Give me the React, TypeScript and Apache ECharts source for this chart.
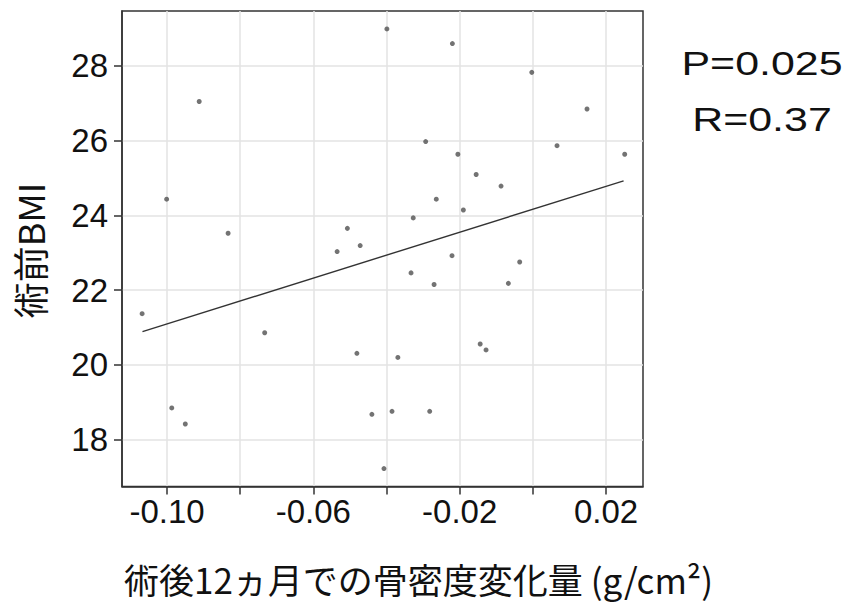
import React, { useEffect, useRef } from "react";
import * as echarts from "echarts";

// Change in bone mineral density 12 months after surgery (g/cm2)
const bmdChange = [
  -0.0912, -0.0399, -0.0220, -0.0003, 0.0148, -0.0293, -0.0205, 0.0066, 0.0251,
  -0.0155, -0.0087, -0.0264, -0.1001, -0.0833, -0.0535, -0.0507, -0.0472, -0.1068,
  -0.0733, -0.0481, -0.0369, -0.0190, -0.0327, -0.0221, -0.0333, -0.0270, -0.0036,
  -0.0067, -0.0144, -0.0128, -0.0987, -0.0950, -0.0440, -0.0385, -0.0282, -0.0407,
];
// Pre-operative BMI
const preBmi = [
  27.04, 28.98, 28.59, 27.82, 26.84, 25.97, 25.63, 25.86, 25.63,
  25.09, 24.78, 24.43, 24.43, 23.52, 23.03, 23.65, 23.19, 21.37,
  20.86, 20.31, 20.20, 24.14, 23.93, 22.92, 22.46, 22.15, 22.75,
  22.18, 20.56, 20.40, 18.85, 18.42, 18.68, 18.76, 18.76, 17.23,
];
// Regression line end points
const fitX = [-0.1067, 0.0248];
const fitY = [20.89, 24.92];

const xTicks = [-0.1, -0.08, -0.06, -0.04, -0.02, 0.0, 0.02];
const xLabelValues = [-0.1, -0.06, -0.02, 0.02];
const yTicks = [18, 20, 22, 24, 26, 28];

const xTitle = "術後12ヵ月での骨密度変化量 (g/cm²)";
const yTitle = "術前BMI";
const statLines = ["P=0.025", "R=0.37"];

export default function App() {
  const ref = useRef<HTMLDivElement>(null);
  useEffect(() => {
    if (!ref.current) return;
    const chart = echarts.init(ref.current, null, { renderer: "svg" });
    const axisColor = "#333333";
    const textColor = "#111111";
    const gridColor = "#e3e3e3";
    chart.setOption({
      animation: false,
      backgroundColor: "#ffffff",
      grid: {
        left: 122,
        top: 11,
        width: 521,
        height: 475.5,
        show: true,
        borderColor: axisColor,
        borderWidth: 1.5,
        backgroundColor: "transparent",
      },
      xAxis: {
        type: "value",
        min: -0.1123,
        max: 0.0301,
        axisLine: { show: true, onZero: false, lineStyle: { color: axisColor, width: 1.5 } },
        axisTick: {
          show: true,
          length: 8,
          customValues: xTicks,
          lineStyle: { color: axisColor, width: 1.5 },
        },
        axisLabel: {
          customValues: xLabelValues,
          formatter: (v: number) => v.toFixed(2),
          fontSize: 33,
          color: textColor,
          fontFamily: "Liberation Sans",
          margin: 8,
        },
        splitLine: { show: true, lineStyle: { color: gridColor, width: 1.5 } },
      },
      yAxis: {
        type: "value",
        min: 16.75,
        max: 29.46,
        axisLine: { show: true, onZero: false, lineStyle: { color: axisColor, width: 1.5 } },
        axisTick: {
          show: true,
          length: 8,
          customValues: yTicks,
          lineStyle: { color: axisColor, width: 1.5 },
        },
        axisLabel: {
          customValues: yTicks,
          formatter: (v: number) => String(v),
          fontSize: 33,
          color: textColor,
          fontFamily: "Liberation Sans",
          margin: 14,
        },
        splitLine: { show: true, lineStyle: { color: gridColor, width: 1.5 } },
      },
      series: [
        {
          type: "scatter",
          data: bmdChange.map((x, i) => [x, preBmi[i]]),
          symbol: "circle",
          symbolSize: 5,
          itemStyle: { color: "#505050" },
          z: 3,
        },
        {
          type: "line",
          data: fitX.map((x, i) => [x, fitY[i]]),
          showSymbol: false,
          lineStyle: { color: "#333333", width: 1.4 },
          z: 2,
        },
      ],
      graphic: [
        {
          type: "text",
          x: 124,
          y: 578,
          style: {
            text: xTitle,
            fontSize: 35,
            lineHeight: 35,
            fontFamily: "Noto Sans CJK JP",
            fill: textColor,
            align: "left",
            verticalAlign: "middle",
          },
        },
        {
          type: "text",
          x: 28.5,
          y: 250.5,
          rotation: Math.PI / 2,
          style: {
            text: yTitle,
            fontSize: 36,
            fontFamily: "Noto Sans CJK JP",
            fill: textColor,
            align: "center",
            verticalAlign: "middle",
          },
        },
        {
          type: "text",
          x: 762,
          y: 63.3,
          scaleX: 1.3,
          style: {
            text: statLines[0],
            fontSize: 33,
            fontFamily: "Liberation Sans",
            fill: textColor,
            align: "center",
            verticalAlign: "middle",
          },
        },
        {
          type: "text",
          x: 762,
          y: 119.2,
          scaleX: 1.3,
          style: {
            text: statLines[1],
            fontSize: 33,
            fontFamily: "Liberation Sans",
            fill: textColor,
            align: "center",
            verticalAlign: "middle",
          },
        },
      ],
    });
    return () => chart.dispose();
  }, []);
  return (
    <div
      ref={ref}
      style={{ position: "fixed", left: 0, top: 0, width: 851, height: 604, background: "#fff" }}
    />
  );
}
